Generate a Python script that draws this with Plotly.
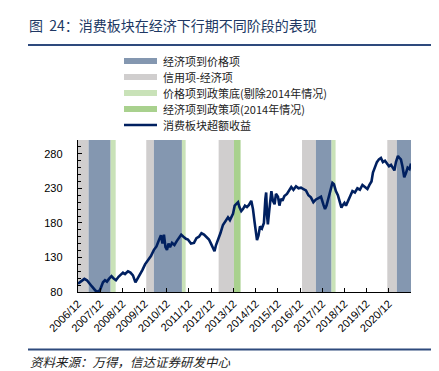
import plotly.graph_objects as go

# ---------------- data ----------------
dates = [
    "2006-12-01", "2007-01-20", "2007-03-16", "2007-04-27", "2007-05-30", "2007-07-18", "2007-09-15",
    "2007-10-25", "2007-11-28", "2008-01-16", "2008-02-18", "2008-03-21", "2008-04-23", "2008-06-04",
    "2008-07-06", "2008-08-17", "2008-09-28", "2008-11-08", "2008-12-10", "2009-01-13", "2009-03-02",
    "2009-04-12", "2009-05-23", "2009-07-03", "2009-08-14", "2009-09-16", "2009-10-27", "2009-12-08",
    "2010-01-26", "2010-03-15", "2010-05-03", "2010-06-14", "2010-07-24", "2010-08-27", "2010-09-21",
    "2010-10-15", "2010-11-09", "2010-12-04", "2010-12-29", "2011-01-23", "2011-02-25", "2011-04-06",
    "2011-05-16", "2011-06-18", "2011-07-26", "2011-09-01", "2011-10-12", "2011-11-14", "2012-01-03",
    "2012-02-21", "2012-04-02", "2012-05-13", "2012-06-23", "2012-08-04", "2012-09-14", "2012-10-25",
    "2012-11-27", "2012-12-30", "2013-01-24", "2013-02-18", "2013-03-21", "2013-05-01", "2013-06-12",
    "2013-07-23", "2013-09-03", "2013-10-05", "2013-10-30", "2013-11-24", "2013-12-22", "2014-01-21",
    "2014-02-15", "2014-03-10", "2014-04-09", "2014-05-07", "2014-06-09", "2014-07-12", "2014-08-14",
    "2014-09-21", "2014-10-19", "2014-11-16", "2014-12-07", "2014-12-24", "2015-01-18", "2015-02-12",
    "2015-03-15", "2015-04-17", "2015-05-11", "2015-05-24", "2015-06-08", "2015-06-21", "2015-07-16",
    "2015-08-02", "2015-08-18", "2015-09-12", "2015-10-10", "2015-11-01", "2015-12-04", "2015-12-28",
    "2016-01-22", "2016-02-16", "2016-03-19", "2016-04-30", "2016-06-02", "2016-07-10", "2016-08-15",
    "2016-09-26", "2016-11-06", "2016-12-17", "2017-01-27", "2017-03-08", "2017-04-18", "2017-05-29",
    "2017-07-09", "2017-08-20", "2017-10-01", "2017-11-11", "2017-12-22", "2018-01-16", "2018-02-10",
    "2018-03-13", "2018-04-15", "2018-05-18", "2018-06-12", "2018-07-14", "2018-08-16", "2018-09-19",
    "2018-10-13", "2018-11-07", "2018-12-02", "2018-12-27", "2019-01-29", "2019-03-02", "2019-04-12",
    "2019-05-23", "2019-07-03", "2019-08-13", "2019-09-24", "2019-11-04", "2019-12-15", "2020-01-17",
    "2020-02-20", "2020-03-15", "2020-04-17", "2020-05-19", "2020-06-21", "2020-07-24", "2020-08-26",
    "2020-09-29", "2020-11-01", "2020-12-04", "2021-01-06", "2021-02-08", "2021-03-03", "2021-03-28",
    "2021-04-30", "2021-05-24", "2021-06-18", "2021-07-13", "2021-08-12", "2021-09-09", "2021-10-07",
    "2021-11-06", "2021-12-01",
]
excess_return = [
    92, 96, 99, 97, 93, 88, 82,
    80, 83, 94, 97, 95, 99, 103,
    100, 97, 102, 106, 108, 106, 110,
    108, 104, 94, 100, 105, 112, 120,
    126, 132, 141, 146, 155, 162, 150,
    163, 145, 141, 150, 145, 151, 148,
    154, 158, 163, 160, 157, 156, 150,
    151, 158, 160, 165, 163, 160, 156,
    150, 143, 139, 148, 155, 165, 177,
    182, 188, 184, 190, 193, 205, 208,
    210, 203, 197, 200, 205, 203, 206,
    212, 200, 180, 160, 155, 162, 175,
    172, 180, 215, 224, 190, 178, 200,
    220, 226, 212, 207, 222, 218, 205,
    215, 212, 219, 222, 226, 232, 228,
    233, 230, 231, 229, 227, 220, 217,
    210, 214, 216, 218, 206, 200, 205,
    216, 224, 238, 236, 226, 220, 208,
    202, 206, 209, 205, 213, 218, 226,
    224, 230, 228, 235, 232, 229, 235,
    240, 253, 260, 268, 272, 274, 268,
    270, 266, 262, 264, 258, 256, 268,
    277, 274, 272, 262, 246, 252, 260,
    258, 266,
]

# phase periods (start, end)
credit_to_econ_top = [("2006-12-01", "2007-05-24"), ("2009-12-28", "2010-05-03"),
                      ("2013-04-02", "2013-12-10"), ("2017-01-03", "2017-08-20"),
                      ("2020-11-06", "2021-04-13")]
econ_to_price_top = [("2007-05-24", "2008-05-21"), ("2010-05-03", "2011-08-07"),
                     ("2017-08-20", "2018-05-04"), ("2021-04-13", "2021-12-05")]
price_top_to_policy_bottom = [("2008-05-21", "2008-08-12"), ("2011-08-07", "2011-10-07"),
                              ("2018-05-04", "2018-07-09")]
econ_top_to_policy_top_2014 = [("2013-12-10", "2014-03-29")]

tick_dates = ["2006-12-01", "2007-12-01", "2008-12-01", "2009-12-01", "2010-12-01",
              "2011-12-01", "2012-12-01", "2013-12-01", "2014-12-01", "2015-12-01",
              "2016-12-01", "2017-12-01", "2018-12-01", "2019-12-01", "2020-12-01"]
tick_labels = ["2006/12", "2007/12", "2008/12", "2009/12", "2010/12", "2011/12", "2012/12",
               "2013/12", "2014/12", "2015/12", "2016/12", "2017/12", "2018/12", "2019/12",
               "2020/12"]
y_ticks = [80, 130, 180, 230, 280]
y_range = [80, 300]

legend_names = ["经济项到价格项", "信用项-经济项", "价格项到政策底(剔除2014年情况)",
                "经济项到政策项(2014年情况)", "消费板块超额收益"]

# ---------------- style ----------------
C_BLUE = "#8497B0"
C_GRAY = "#D0CECE"
C_LGREEN = "#C9E2B8"
C_GREEN = "#A9D18E"
C_LINE = "#002060"
C_NAVY = "#203864"
CJK = "Noto Sans CJK SC"
LAT = "Liberation Sans, Arial"
PAD = "\u00a0" * 4  # keeps y labels away from the axis line, as in the original

W, H = 439, 371
L, R, T, B = 70, 36, 132, 87
PW, PH = W - L - R, H - T - B


def px(x):
    return (x - L) / PW


def py(y):
    return (H - B - y) / PH


fig = go.Figure()

shapes = []
for periods, col in [(credit_to_econ_top, C_GRAY), (econ_to_price_top, C_BLUE),
                     (price_top_to_policy_bottom, C_LGREEN), (econ_top_to_policy_top_2014, C_GREEN)]:
    for s, e in periods:
        shapes.append(dict(type="rect", xref="x", yref="paper", x0=s, x1=e, y0=0, y1=1,
                           fillcolor=col, line=dict(width=0), layer="below"))

fig.add_trace(go.Scatter(x=dates, y=excess_return, mode="lines",
                         line=dict(color=C_LINE, width=2.6), name=legend_names[4],
                         showlegend=False))

# manual legend
leg_rows = [53, 69, 85, 101, 117]
leg_cols = [C_BLUE, C_GRAY, C_LGREEN, C_GREEN]
annotations = []
for i, name in enumerate(legend_names):
    yc = py(leg_rows[i])
    if i < 4:
        shapes.append(dict(type="rect", xref="paper", yref="paper", x0=px(116), x1=px(149),
                           y0=yc - 3 / PH, y1=yc + 3 / PH, fillcolor=leg_cols[i],
                           line=dict(width=0)))
    else:
        shapes.append(dict(type="line", xref="paper", yref="paper", x0=px(116), x1=px(149),
                           y0=yc, y1=yc, line=dict(color=C_LINE, width=2.4)))
    annotations.append(dict(xref="paper", yref="paper", x=px(153), y=yc, xanchor="left",
                            yanchor="middle", showarrow=False, text=name,
                            font=dict(family=CJK, size=11, color="#222222")))

# title, rules, source
annotations.append(dict(xref="paper", yref="paper", x=px(19), y=py(17), xanchor="left",
                        yanchor="middle", showarrow=False,
                        text="图  24：消费板块在经济下行期不同阶段的表现",
                        font=dict(family=CJK, size=14, color=C_NAVY)))
annotations.append(dict(xref="paper", yref="paper", x=px(20), y=py(353), xanchor="left",
                        yanchor="middle", showarrow=False,
                        text="资料来源：万得，信达证券研发中心",
                        font=dict(family=CJK, size=12.5, color="#222222", style="italic")))
for yy in (37, 341.5):
    shapes.append(dict(type="line", xref="paper", yref="paper", x0=px(20), x1=px(430),
                       y0=py(yy), y1=py(yy), line=dict(color="#2E4A7D", width=2)))

fig.update_layout(
    width=W, height=H,
    margin=dict(l=L, r=R, t=T, b=B),
    paper_bgcolor="white", plot_bgcolor="white",
    shapes=shapes, annotations=annotations,
    showlegend=False,
    font=dict(family=LAT, size=11, color="#000000"),
    xaxis=dict(
        type="date", range=["2006-12-01", "2021-12-01"],
        tickmode="array", tickvals=tick_dates, ticktext=tick_labels, tickangle=-45,
        ticks="inside", ticklen=4, tickcolor="#000000", showgrid=False,
        showline=True, linecolor="#000000", linewidth=1,
        tickfont=dict(family=LAT, size=11, color="#000000"),
    ),
    yaxis=dict(
        range=y_range, tickmode="array", tickvals=y_ticks,
        ticktext=[f"{v}{PAD}" for v in y_ticks],
        ticks="inside", ticklen=4, tickcolor="#000000", showgrid=False,
        showline=True, linecolor="#000000", linewidth=1,
        minor=dict(ticks="inside", ticklen=3, dtick=10, tick0=80, tickcolor="#000000",
                   showgrid=False),
        tickfont=dict(family=LAT, size=11, color="#000000"),
    ),
)

fig.write_html("out.html")
